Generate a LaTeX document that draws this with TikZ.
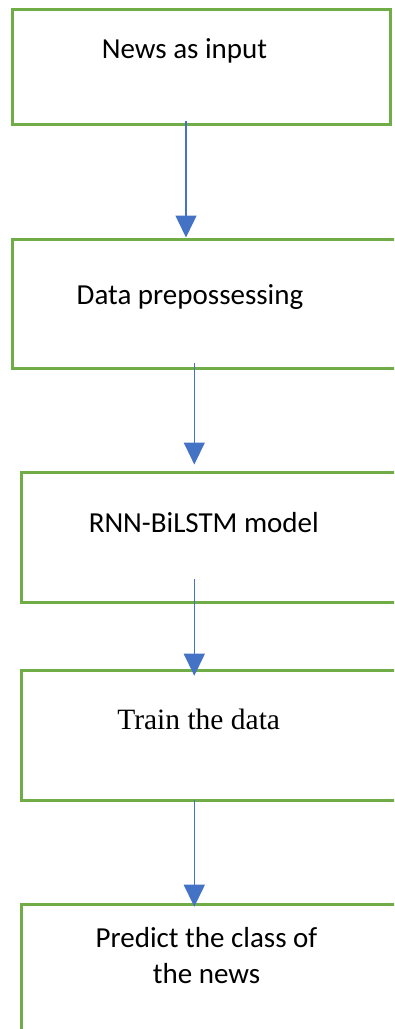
\documentclass[tikz,border=0pt]{standalone}
\usepackage{fontspec}
\setmainfont{Carlito}
\newfontfamily\timesf{Liberation Serif}
\usetikzlibrary{arrows.meta,calc}
\definecolor{boxgreen}{HTML}{70AD47}
\definecolor{arrblue}{HTML}{4472C4}
\tikzset{
  stepbox/.style={draw=boxgreen, line width=3pt, rectangle, inner sep=0pt, outer sep=0pt},
  flowarr/.style={draw=arrblue, line width=1.4pt, -{Triangle[width=21pt,length=22pt,fill=arrblue]}},
  lbl/.style={anchor=base, inner sep=0pt, font=\fontsize{29}{35.5}\selectfont, align=center}
}
\begin{document}
\begin{tikzpicture}
\useasboundingbox (0,0) rectangle (394pt,-1029pt);
\clip (0,0) rectangle (394pt,-1029pt);
% boxes
\node[stepbox, minimum width=378pt, minimum height=114.5pt] (b1) at (201pt,-66.75pt) {};
\node[stepbox, minimum width=397.5pt, minimum height=128.8pt] (b2) at (211.25pt,-303.9pt) {};
\node[stepbox, minimum width=389pt, minimum height=130.2pt] (b3) at (215.5pt,-537.6pt) {};
\node[stepbox, minimum width=389pt, minimum height=129.3pt] (b4) at (215.5pt,-735.35pt) {};
\node[stepbox, minimum width=389pt, minimum height=155.7pt] (b5) at (215.5pt,-982.15pt) {};
% labels
\node[lbl] (t1) at (184.5pt,-58pt) {News as input};
\node[lbl] (t2) at (190pt,-304pt) {Data prepossessing};
\node[lbl] (t3) at (203.8pt,-532.3pt) {RNN-BiLSTM model};
\node[lbl, font=\timesf\fontsize{29.5}{35}\selectfont] (t4) at (198.7pt,-729.3pt) {Train the data};
\node[lbl] (t5) at (206.5pt,-983.3pt) {Predict the class of\\the news};
% arrow axes
\coordinate (x1) at (186pt,0);
\coordinate (x2) at (194.3pt,0);
% connectors
\draw[flowarr] ($(b1.south -| x1)+(0,3pt)$) -- ($(b2.north -| x1)+(0,2pt)$);
\draw[flowarr] ($(b2.south -| x2)+(0,5.6pt)$) -- ($(b3.north -| x2)+(0,8pt)$);
\draw[flowarr] ($(b3.south -| x2)+(0,23.4pt)$) -- ($(b4.north -| x2)+(0,-5pt)$);
\draw[flowarr] (b4.south -| x2) -- ($(b5.north -| x2)+(0,-2.4pt)$);
\end{tikzpicture}
\end{document}
